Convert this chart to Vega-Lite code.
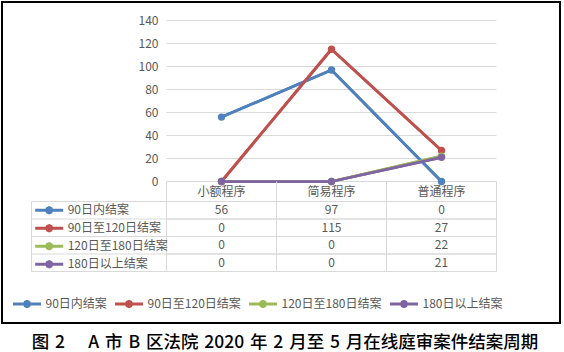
{
  "$schema": "https://vega.github.io/schema/vega-lite/v6.json",
  "width": 558,
  "height": 321,
  "autosize": {"type": "none"},
  "padding": {"left": 2, "top": 2, "right": 4, "bottom": 29},
  "background": "white",
  "view": {"stroke": "#000000", "strokeWidth": 2, "fill": "white"},
  "title": {
    "text": "图\u20042\u2003\u2004A\u2004市\u2004B\u2004区法院\u20042020\u2004年\u20042\u2004月至\u20045\u2004月在线庭审案件结案周期",
    "orient": "bottom",
    "anchor": "middle",
    "frame": "group",
    "font": "Noto Sans CJK SC",
    "fontSize": 17.5,
    "fontWeight": 500,
    "color": "#000000",
    "offset": 11,
    "dx": 4
  },
  "datasets": {
    "cases": [
      {"series": "90日内结案", "program": "小额程序", "value": 56},
      {"series": "90日内结案", "program": "简易程序", "value": 97},
      {"series": "90日内结案", "program": "普通程序", "value": 0},
      {"series": "90日至120日结案", "program": "小额程序", "value": 0},
      {"series": "90日至120日结案", "program": "简易程序", "value": 115},
      {"series": "90日至120日结案", "program": "普通程序", "value": 27},
      {"series": "120日至180日结案", "program": "小额程序", "value": 0},
      {"series": "120日至180日结案", "program": "简易程序", "value": 0},
      {"series": "120日至180日结案", "program": "普通程序", "value": 22},
      {"series": "180日以上结案", "program": "小额程序", "value": 0},
      {"series": "180日以上结案", "program": "简易程序", "value": 0},
      {"series": "180日以上结案", "program": "普通程序", "value": 21}
    ]
  },
  "data": {"name": "cases"},
  "config": {
    "font": "Noto Sans CJK SC",
    "axis": {
      "translate": 0,
      "tickRound": false,
      "labelFont": "Noto Sans CJK SC",
      "labelFontSize": 12,
      "labelColor": "#595959",
      "title": null
    },
    "legend": {
      "labelFont": "Noto Sans CJK SC",
      "labelFontSize": 12,
      "labelColor": "#595959",
      "symbolType": "M-3,0L3,0M0.55,0L0.389,0.389L0,0.55L-0.389,0.389L-0.55,0L-0.389,-0.389L0,-0.55L0.389,-0.389Z",
      "symbolSize": 87,
      "symbolStrokeWidth": 3,
      "symbolOffset": 7.5,
      "labelOffset": 12,
      "rowPadding": -1,
      "columnPadding": 2,
      "padding": 0
    }
  },
  "resolve": {"scale": {"y": "independent"}, "axis": {"y": "independent"}},
  "layer": [
    {
      "layer": [
        {
          "mark": {"type": "rect", "fill": "transparent", "stroke": "#d9d9d9", "strokeWidth": 1},
          "encoding": {
            "x": {
              "field": "program",
              "type": "nominal",
              "scale": {"type": "band", "domain": ["小额程序", "简易程序", "普通程序"], "range": [164.5, 494.5], "paddingInner": 0, "paddingOuter": 0},
              "axis": {
                "orient": "bottom",
                "offset": -141.5,
                "domain": false,
                "grid": false,
                "ticks": true,
                "tickBand": "extent",
                "tickSize": 20,
                "tickColor": "#d9d9d9",
                "tickWidth": 1,
                "labelPadding": -10,
                "labelBaseline": "middle",
                "labelAngle": 0,
                "labelFontSize": 12,
                "title": null
              }
            },
            "y": {
              "field": "series",
              "type": "nominal",
              "scale": {"type": "band", "domain": ["90日内结案", "90日至120日结案", "120日至180日结案", "180日以上结案"], "range": [199.5, 269.5], "paddingInner": 0, "paddingOuter": 0},
              "axis": {
                "orient": "right",
                "offset": -528.5,
                "domain": true,
                "domainColor": "#d9d9d9",
                "domainWidth": 1,
                "ticks": true,
                "tickBand": "extent",
                "tickSize": 135,
                "tickColor": "#d9d9d9",
                "tickWidth": 1,
                "labels": false,
                "grid": false,
                "title": null
              }
            }
          }
        },
        {
          "mark": {"type": "text", "fontSize": 12, "color": "#595959", "font": "Noto Sans CJK SC", "baseline": "middle", "align": "center"},
          "encoding": {
            "x": {"field": "program", "type": "nominal"},
            "y": {"field": "series", "type": "nominal"},
            "text": {"field": "value", "type": "quantitative"}
          }
        }
      ]
    },
    {
      "layer": [
        {
          "mark": {"type": "line", "strokeWidth": 2.75, "strokeJoin": "round"},
          "encoding": {
            "x": {"field": "program", "type": "nominal"},
            "y": {
              "field": "value",
              "type": "quantitative",
              "scale": {"domain": [0, 140], "range": [179.5, 18.5], "nice": false, "zero": false},
              "axis": {
                "orient": "left",
                "offset": -164.5,
                "values": [0, 20, 40, 60, 80, 100, 120, 140],
                "domain": false,
                "ticks": false,
                "tickSize": 0,
                "labelPadding": 8,
                "grid": true,
                "gridColor": "#d9d9d9",
                "gridWidth": 1,
                "title": null
              }
            },
            "color": {
              "field": "series",
              "type": "nominal",
              "scale": {"domain": ["90日内结案", "90日至120日结案", "120日至180日结案", "180日以上结案"], "range": ["#4F81BD", "#C0504D", "#9BBB59", "#8064A2"]},
              "legend": {
                "orient": "bottom-left",
                "offset": 10.5,
                "direction": "horizontal",
                "columns": 4,
                "title": null,
                "symbolType": "M-3,0L3,0M0.55,0L0.389,0.389L0,0.55L-0.389,0.389L-0.55,0L-0.389,-0.389L0,-0.55L0.389,-0.389Z",
                "symbolSize": 87,
                "symbolStrokeWidth": 3,
                "encode": {"symbols": {"update": {"fill": {"scale": "color", "field": "value"}, "strokeWidth": {"value": 3}}}}
              }
            },
            "order": {"value": null}
          }
        },
        {
          "mark": {"type": "line", "strokeWidth": 2.75, "strokeJoin": "round"},
          "encoding": {
            "x": {"field": "program", "type": "nominal"},
            "y": {"field": "value", "type": "quantitative"},
            "stroke": {
              "field": "series",
              "type": "nominal",
              "scale": {"domain": ["90日内结案", "90日至120日结案", "120日至180日结案", "180日以上结案"], "range": ["#4F81BD", "#C0504D", "#9BBB59", "#8064A2"]},
              "legend": {
                "orient": "none",
                "legendX": 33.2,
                "legendY": 201.75,
                "direction": "vertical",
                "title": null,
                "symbolType": "M-3,0L3,0M0.55,0L0.389,0.389L0,0.55L-0.389,0.389L-0.55,0L-0.389,-0.389L0,-0.55L0.389,-0.389Z",
                "symbolSize": 87,
                "symbolStrokeWidth": 3,
                "encode": {"symbols": {"update": {"fill": {"scale": "stroke", "field": "value"}, "strokeWidth": {"value": 3}}}}
              }
            },
            "order": {"value": null}
          }
        },
        {
          "mark": {"type": "point", "shape": "circle", "filled": true, "size": 55, "opacity": 1},
          "encoding": {
            "x": {"field": "program", "type": "nominal"},
            "y": {"field": "value", "type": "quantitative"},
            "fill": {
              "field": "series",
              "type": "nominal",
              "scale": {"domain": ["90日内结案", "90日至120日结案", "120日至180日结案", "180日以上结案"], "range": ["#4F81BD", "#C0504D", "#9BBB59", "#8064A2"]},
              "legend": null
            }
          }
        }
      ]
    }
  ]
}
